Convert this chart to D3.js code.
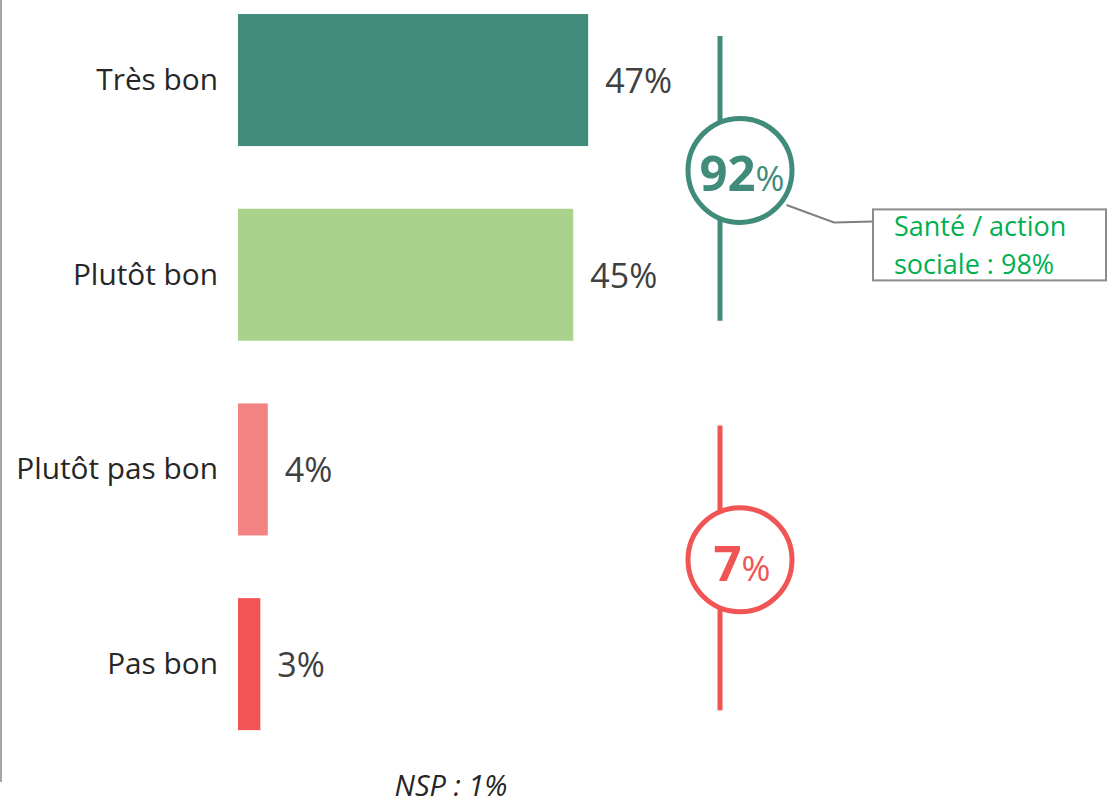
<!DOCTYPE html>
<html><head><meta charset="utf-8">
<script src="https://cdn.jsdelivr.net/npm/d3@7"></script>
<style>
html,body{margin:0;padding:0;background:#fff;}
svg{display:block;font-family:"Open Sans",sans-serif;}
</style></head>
<body>
<svg id="chart" width="1107" height="806"></svg>
<script>
// ---- data ----
const categories = ["Très bon", "Plutôt bon", "Plutôt pas bon", "Pas bon"];
const values = [47, 45, 4, 3];
const barColors = ["#418B7B", "#A9D38C", "#F38382", "#F05454"];
const groupNames = ["positive", "negative"];
const groupMembers = [["Très bon", "Plutôt bon"], ["Plutôt pas bon", "Pas bon"]];
const groupTotals = [92, 7];
const groupColors = ["#418B7B", "#F05454"];
const calloutLines = ["Santé / action", "sociale : 98%"];
const nspLabel = "NSP : 1%";

const svg = d3.select("#chart");

const x = d3.scaleLinear().domain([0, 100]).range([238, 983]);
const y = d3.scaleBand().domain(categories).range([-17.3, 761.5])
  .paddingInner(0.322).paddingOuter(0.161);

// left axis line
svg.append("line").attr("x1", 1).attr("x2", 1).attr("y1", 0).attr("y2", 782)
  .attr("stroke", "#A6A6A6").attr("stroke-width", 2);

// bars
svg.selectAll("rect.bar").data(categories).join("rect")
  .attr("class", "bar")
  .attr("x", x(0))
  .attr("y", d => y(d))
  .attr("width", (d, i) => x(values[i]) - x(0))
  .attr("height", y.bandwidth())
  .attr("fill", (d, i) => barColors[i]);

// category labels
svg.selectAll("text.cat").data(categories).join("text")
  .attr("class", "cat")
  .attr("x", 218)
  .attr("y", d => y(d) + y.bandwidth() / 2 + 10)
  .attr("text-anchor", "end")
  .attr("font-size", 29.8)
  .attr("fill", "#262626")
  .text(d => d);

// value labels
svg.selectAll("text.val").data(categories).join("text")
  .attr("class", "val")
  .attr("x", (d, i) => x(values[i]) + 17)
  .attr("y", d => y(d) + y.bandwidth() / 2 + 13)
  .attr("font-size", 34)
  .attr("fill", "#404040")
  .text((d, i) => values[i] + "%");

// group lines and circles
const lineX = 720, circleX = 740, circleR = 52;
groupMembers.forEach((mem, gi) => {
  const top = y(mem[0]);
  const bottom = y(mem[mem.length - 1]) + y.bandwidth();
  const col = groupColors[gi];
  const cy = (top + bottom) / 2 - 7;
  svg.append("line")
    .attr("x1", lineX).attr("x2", lineX)
    .attr("y1", top + 22).attr("y2", bottom - 20)
    .attr("stroke", col).attr("stroke-width", 5);
  svg.append("circle")
    .attr("cx", circleX).attr("cy", cy).attr("r", circleR)
    .attr("fill", "#fff").attr("stroke", col).attr("stroke-width", 5);
  const t = svg.append("text")
    .attr("x", circleX + 2).attr("y", cy + 21)
    .attr("text-anchor", "middle").attr("fill", col);
  t.append("tspan").attr("font-size", 49).attr("font-weight", "bold").text(groupTotals[gi]);
  t.append("tspan").attr("font-size", 35).text("%");

  if (gi === 0) {
    const ang = Math.atan2(35, 47);
    const sx = circleX + (circleR + 6) * Math.cos(ang);
    const sy = cy + (circleR + 6) * Math.sin(ang);
    svg.append("polyline")
      .attr("points", [[sx, sy], [834, cy + 52], [873, cy + 51]].map(p => p.join(",")).join(" "))
      .attr("fill", "none").attr("stroke", "#7F7F7F").attr("stroke-width", 2);
    svg.append("rect")
      .attr("x", 873).attr("y", cy + 39).attr("width", 233).attr("height", 71)
      .attr("fill", "#fff").attr("stroke", "#8C8C8C").attr("stroke-width", 2);
    svg.selectAll("text.callout").data(calloutLines).join("text")
      .attr("class", "callout")
      .attr("x", 894)
      .attr("y", (d, i) => cy + 66 + i * 38)
      .attr("font-size", 27)
      .attr("fill", "#00B050")
      .text(d => d);
  }
});

// NSP note
svg.append("text")
  .attr("x", 451).attr("y", 796)
  .attr("text-anchor", "middle")
  .attr("font-size", 29).attr("font-style", "italic")
  .attr("fill", "#262626")
  .text(nspLabel);
</script>
</body></html>
